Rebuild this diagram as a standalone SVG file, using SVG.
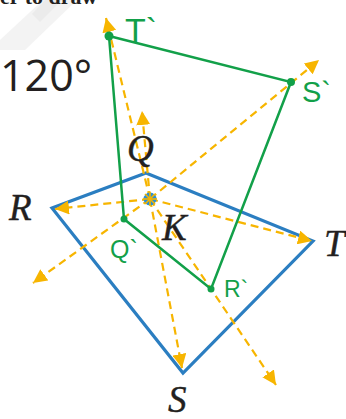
<svg xmlns="http://www.w3.org/2000/svg" width="346" height="419" viewBox="0 0 346 419">
<style>
.dash{fill:none;stroke:#f7b500;stroke-width:2.2;stroke-dasharray:8 5;marker-end:url(#ah)}
.grn{fill:none;stroke:#12a049;stroke-width:2.5;stroke-linecap:round}
.gdot{fill:#12a049}
.lbl{font-family:"Liberation Serif","Times New Roman",serif;font-style:italic;font-size:37px;fill:#231f20;stroke:#231f20;stroke-width:0.4}
.glbl{font-family:"Liberation Sans",Arial,sans-serif;fill:#12a049}
</style>
<defs>
<marker id="ah" markerUnits="userSpaceOnUse" markerWidth="16" markerHeight="14" refX="14" refY="7" orient="auto">
<path d="M0,0 L14,7 L0,14 z" fill="#f7b500"/>
</marker>
</defs>
<rect width="346" height="419" fill="#ffffff"/>
<g id="watermark">
<polygon points="0,40 43,0 77,0 25,50 0,50" fill="#f3f3f3"/>
<polygon points="45,0 62,0 40,22 32,14" fill="#ebebeb"/>
</g>
<g id="header">
<text x="0" y="4" font-family="Liberation Serif,serif" font-weight="bold" font-size="22" fill="#231f20">er to draw</text>
<text x="0" y="91" font-family="Open Sans,Liberation Sans,sans-serif" font-size="43" fill="#231f20">120°</text>
</g>
<g id="figure-QRST">
<polygon points="146,173 313,241 183,373 52,208" fill="none" stroke="#2b7ec1" stroke-width="3.2" stroke-linejoin="miter"/>
</g>
<g id="connectors">
<line class="dash" x1="150" y1="199" x2="142" y2="111"/>
<line class="dash" x1="150" y1="199" x2="55" y2="209"/>
<line class="dash" x1="150" y1="199" x2="312" y2="241"/>
<line class="dash" x1="150" y1="199" x2="182" y2="368"/>
<line class="dash" x1="150" y1="199" x2="106" y2="18"/>
<line class="dash" x1="150" y1="199" x2="319" y2="60"/>
<line class="dash" x1="150" y1="199" x2="276" y2="385"/>
<line class="dash" x1="150" y1="199" x2="33" y2="283"/>
</g>
<g id="point-K">
<circle cx="150" cy="199" r="6.5" fill="#2b8fd3"/>
<g stroke="#f7b500" stroke-width="1.6">
<line x1="150" y1="192" x2="150" y2="206"/>
<line x1="143" y1="199" x2="157" y2="199"/>
<line x1="145" y1="194" x2="155" y2="204"/>
<line x1="155" y1="194" x2="145" y2="204"/>
</g>
</g>
<g id="figure-image">
<polyline class="grn" points="109,36 291,82 211,289 124,219 109,36"/>
<circle class="gdot" cx="109" cy="36" r="4.5"/>
<circle class="gdot" cx="291" cy="82" r="4"/>
<circle class="gdot" cx="124" cy="219" r="3.5"/>
<circle class="gdot" cx="211" cy="289" r="3.5"/>
</g>
<g id="labels">
<text class="lbl" x="127" y="161">Q</text>
<text class="lbl" x="9" y="220">R</text>
<text class="lbl" x="162" y="240">K</text>
<text class="lbl" x="324" y="256">T</text>
<text class="lbl" x="168" y="412">S</text>
<text class="glbl" x="125" y="42" font-size="34">T`</text>
<text class="glbl" x="302" y="102" font-size="29">S`</text>
<text class="glbl" x="110" y="258" font-size="25">Q`</text>
<text class="glbl" x="224" y="297" font-size="23">R`</text>
</g>
</svg>
